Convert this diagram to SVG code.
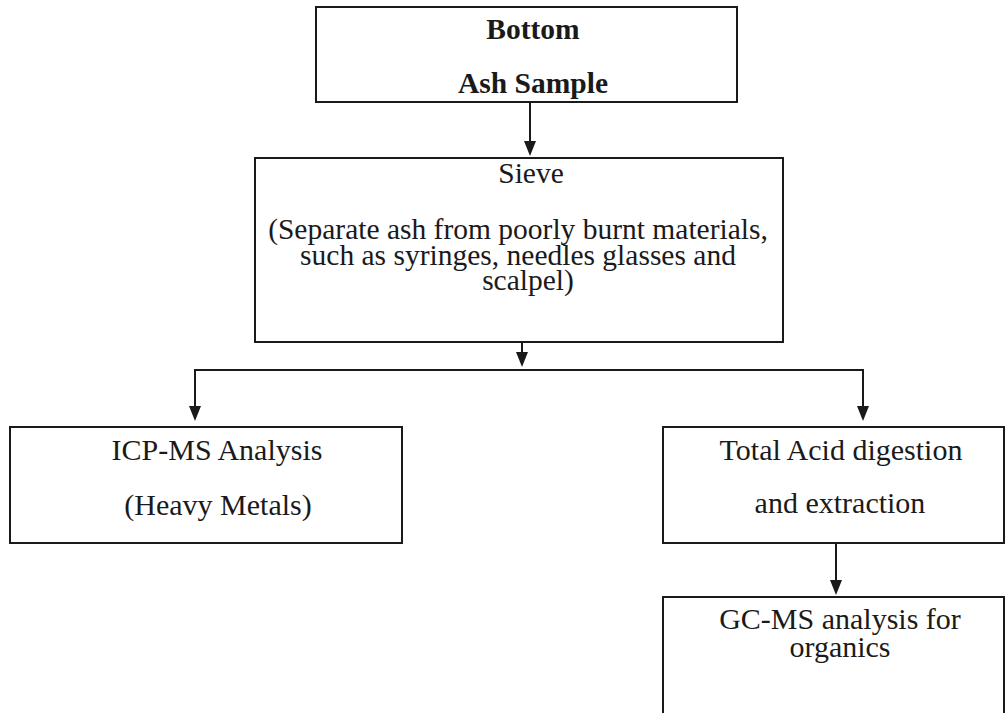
<svg xmlns="http://www.w3.org/2000/svg" width="1008" height="713" viewBox="0 0 1008 713">
<style>
.box{fill:#fff;stroke:#1a1a1a;stroke-width:2}
.t{font-family:'Liberation Serif','Times New Roman','DejaVu Serif',serif;font-size:30px;fill:#1a1a1a;text-anchor:middle}
.s{font-size:29.5px}
.b{font-weight:bold;font-size:29.5px}
.c{fill:none;stroke:#1a1a1a;stroke-width:2}
.ah{fill:#1a1a1a}
</style>
<rect width="1008" height="713" fill="#fff"/>
<g id="connectors">
<path class="c" d="M530,102 V145"/>
<path class="ah" d="M524,141 L536,141 L530,156 Z"/>
<path class="c" d="M522,342 V356"/>
<path class="ah" d="M516,352 L528,352 L522,367 Z"/>
<path class="c" d="M195,410 V370 H863 V410"/>
<path class="ah" d="M189,406 L201,406 L195,421 Z"/>
<path class="ah" d="M857,406 L869,406 L863,421 Z"/>
<path class="c" d="M836,543 V584"/>
<path class="ah" d="M830,580 L842,580 L836,595 Z"/>
</g>
<g id="bottom-ash">
<rect class="box" x="316" y="7" width="421" height="95"/>
<text class="t b" x="533" y="39">Bottom</text>
<text class="t b" x="533" y="93">Ash Sample</text>
</g>
<g id="sieve">
<rect class="box" x="255" y="158" width="528" height="184"/>
<text class="t s" x="531" y="183">Sieve</text>
<text class="t s" x="518" y="239">(Separate ash from poorly burnt materials,</text>
<text class="t s" x="518" y="265">such as syringes, needles glasses and</text>
<text class="t s" x="528" y="290">scalpel)</text>
</g>
<g id="icp">
<rect class="box" x="10" y="427" width="392" height="116"/>
<text class="t" x="217" y="460">ICP-MS Analysis</text>
<text class="t" x="218" y="515">(Heavy Metals)</text>
</g>
<g id="acid">
<rect class="box" x="663" y="427" width="341" height="116"/>
<text class="t" x="841" y="460">Total Acid digestion</text>
<text class="t" x="840" y="513">and extraction</text>
</g>
<g id="gcms">
<rect class="box" x="663" y="597" width="341" height="130"/>
<text class="t" x="840" y="629">GC-MS analysis for</text>
<text class="t" x="840" y="657">organics</text>
</g>
</svg>
